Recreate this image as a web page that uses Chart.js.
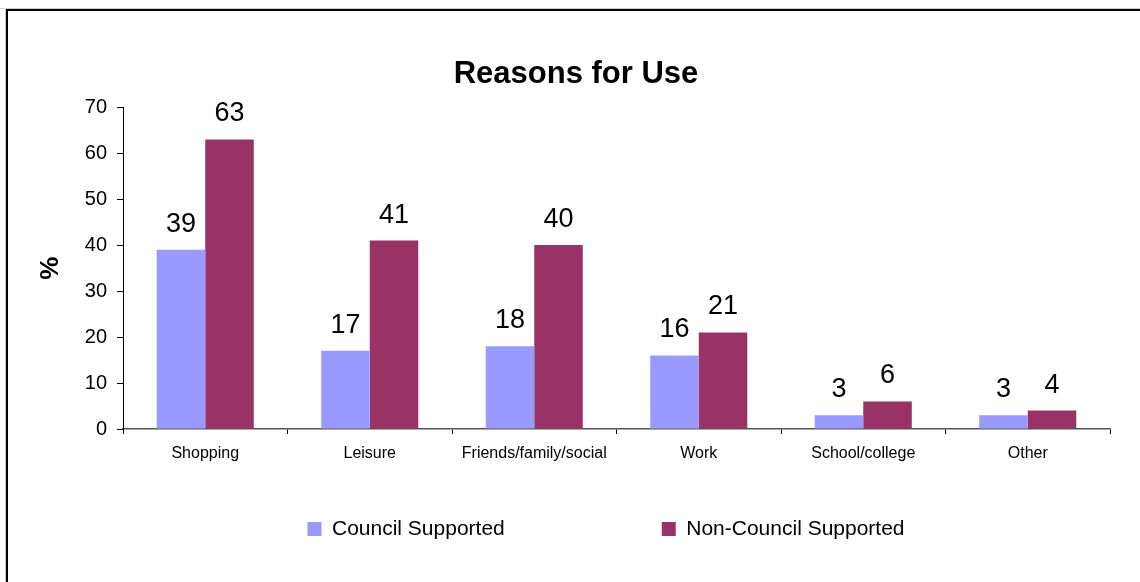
<!DOCTYPE html>
<html>
<head>
<meta charset="utf-8">
<title>Reasons for Use</title>
<script src="https://cdn.jsdelivr.net/npm/chart.js@4.4.1/dist/chart.umd.min.js"></script>
<style>
  html, body { margin: 0; padding: 0; background: #fff; }
  #wrap { width: 1140px; height: 582px; }
</style>
</head>
<body>
<div id="wrap"><canvas id="bar-chart" width="1140" height="582"></canvas></div>
<script>
var categories = ["Shopping", "Leisure", "Friends/family/social", "Work", "School/college", "Other"];
var councilSupported = [39, 17, 18, 16, 3, 3];
var nonCouncilSupported = [63, 41, 40, 21, 6, 4];
var yTicks = [0, 10, 20, 30, 40, 50, 60, 70];

var FONT = "'Liberation Sans', Arial, Helvetica, sans-serif";

// frame round the whole chart, like the old spreadsheet export
var frame = {
    id: 'frame',
    beforeDraw: function (chart) {
        var ctx = chart.ctx;
        ctx.save();
        ctx.strokeStyle = '#cfcfcf';
        ctx.lineWidth = 1;
        ctx.beginPath();
        ctx.moveTo(0, 8.5); ctx.lineTo(chart.width, 8.5);
        ctx.moveTo(5.5, 8); ctx.lineTo(5.5, chart.height);
        ctx.stroke();
        ctx.strokeStyle = '#000';
        ctx.lineWidth = 2;
        ctx.beginPath();
        ctx.moveTo(7, chart.height); ctx.lineTo(7, 10); ctx.lineTo(chart.width, 10);
        ctx.stroke();
        ctx.restore();
    }
};

// value printed over each bar
var barValues = {
    id: 'barValues',
    afterDatasetsDraw: function (chart) {
        var ctx = chart.ctx;
        ctx.save();
        ctx.font = '27px ' + FONT;
        ctx.fillStyle = '#000';
        ctx.textAlign = 'center';
        ctx.textBaseline = 'alphabetic';
        chart.data.datasets.forEach(function (ds, i) {
            chart.getDatasetMeta(i).data.forEach(function (bar, j) {
                ctx.fillText(ds.data[j], bar.x, bar.y - 18);
            });
        });
        ctx.restore();
    }
};

// legend row sits a fixed distance under the axis, a bit right of centre;
// the big label padding spreads the two entries apart, so the box is
// moved up and made tall enough that its clip keeps the row visible
var legendOffsetX = 30;
var legendRowBelowAxis = 100;
var legendNudge = {
    id: 'legendNudge',
    afterLayout: function (chart) {
        var lg = chart.legend;
        var labels = lg.options.labels;
        var itemHeight = Math.max(labels.font.size, labels.boxHeight);
        var dy = chart.chartArea.bottom + legendRowBelowAxis - (lg.top + labels.padding + itemHeight / 2);
        lg.left += legendOffsetX; lg.right += legendOffsetX;
        lg.top += dy;
        lg.height = labels.padding + itemHeight + 10;
        lg.bottom = lg.top + lg.height;
    }
};

new Chart(document.getElementById("bar-chart"), {
    type: 'bar',
    data: {
        labels: categories,
        datasets: [
            {
                label: "Council Supported",
                backgroundColor: '#9999ff',
                data: councilSupported
            },
            {
                label: "Non-Council Supported",
                backgroundColor: '#993366',
                data: nonCouncilSupported
            }
        ]
    },
    plugins: [frame, barValues, legendNudge],
    options: {
        responsive: false,
        animation: false,
        layout: { padding: { left: 42, right: 30, top: 0, bottom: 53 } },
        datasets: {
            bar: { categoryPercentage: 0.59, barPercentage: 1.0 }
        },
        plugins: {
            tooltip: { enabled: false },
            title: {
                display: true,
                text: 'Reasons for Use',
                color: '#000',
                font: { family: FONT, size: 31, weight: 'bold' },
                padding: { top: 56, bottom: 14 }
            },
            legend: {
                position: 'bottom',
                maxHeight: 60,
                labels: {
                    color: '#000',
                    font: { family: FONT, size: 21 },
                    boxWidth: 14,
                    boxHeight: 14,
                    padding: 157
                }
            }
        },
        scales: {
            x: {
                grid: { display: true, drawOnChartArea: false, drawTicks: true, tickLength: 5, color: '#000' },
                border: { display: true, color: '#555', width: 1.5 },
                ticks: { color: '#000', font: { family: FONT, size: 16 }, padding: 10, maxRotation: 0 },
                afterFit: function (scale) { scale.height = 40; }
            },
            y: {
                min: 0,
                max: 70,
                afterBuildTicks: function (scale) {
                    scale.ticks = yTicks.map(function (v) { return { value: v }; });
                },
                grid: { display: true, drawOnChartArea: false, drawTicks: true, tickLength: 6, color: '#000' },
                border: { display: true, color: '#000', width: 1 },
                ticks: { color: '#000', font: { family: FONT, size: 20 }, padding: 10 },
                title: {
                    display: true,
                    text: '%',
                    color: '#000',
                    font: { family: FONT, size: 26, weight: 'bold' },
                    padding: { top: -7, bottom: 0 }
                },
                afterFit: function (scale) { scale.width = 81; }
            }
        }
    }
});
</script>
</body>
</html>
